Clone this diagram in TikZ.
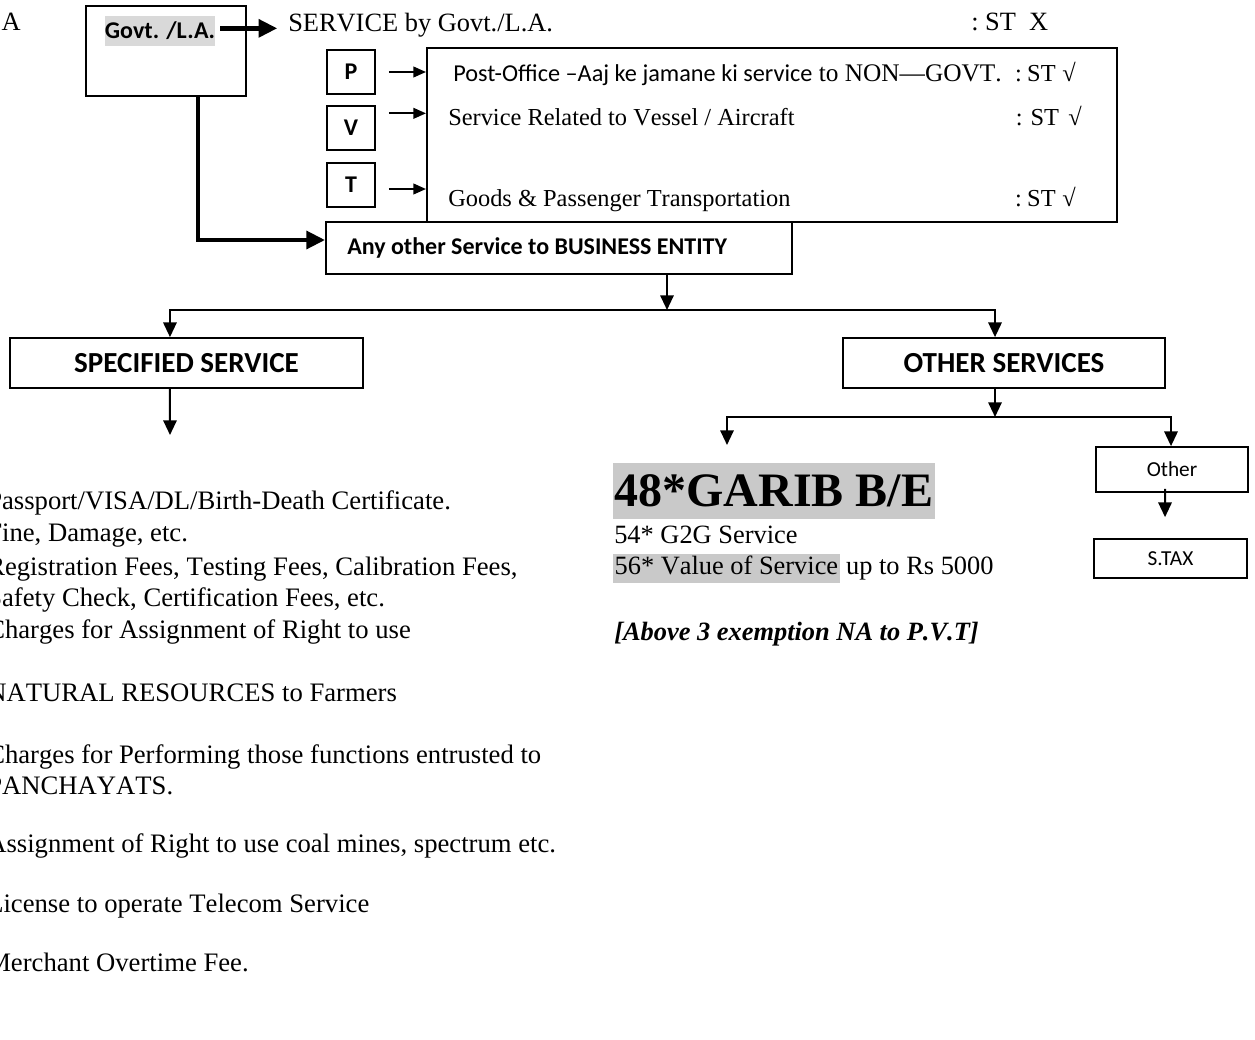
\documentclass[tikz,border=0pt]{standalone}
\usepackage{fontspec}
\setmainfont{Liberation Serif}[Kerning=Off]
\newfontfamily\calfont{Carlito}
\usetikzlibrary{arrows.meta,calc}
\newcommand\fsz[1]{\fontsize{#1}{#1}\selectfont}
\definecolor{hlgray}{gray}{0.79}
\definecolor{hlgraylt}{gray}{0.85}
\newcommand\hlbox[1]{{\setlength{\fboxsep}{1pt}\colorbox{hlgray}{\strut #1}}}
\newcommand\stmark{:\hspace{4pt}ST\hspace{5pt}√}
\begin{document}
\begin{tikzpicture}[x=0.75pt,y=-0.75pt,
  sz/.style 2 args={minimum width=#1*0.75pt, minimum height=#2*0.75pt},
  bx/.style={draw, line width=1.3pt, inner sep=0pt},
  thinarr/.style={line width=1.5pt, -{Triangle[length=11pt,width=10pt]}},
  smallarr/.style={line width=1.5pt, -{Triangle[length=9.5pt,width=8pt]}},
  thickarr/.style={line width=3.7pt, -{Triangle[length=14pt,width=13pt]}},
  txt/.style={inner sep=0pt, anchor=base west},
  cbold/.style={font=\calfont\bfseries\fsz{#1}},
]
\useasboundingbox (0,0) rectangle (1255,1039);

% top row
\node[txt, anchor=base east, font=\fsz{19.8}] (la) at (21,30) {L.A};
\node[bx, sz={160}{90}] (govt) at (166,51) {};
\node[fill=hlgraylt, inner sep=0pt, sz={108}{30}, cbold=18] (govtlbl) at (160,31) {Govt. /L.A.};
\node[txt, font=\fsz{19.8}] (svc) at (288,31) {SERVICE by Govt./L.A.};
\node[txt, font=\fsz{19.8}] (stx) at (971,30) {:~ST~~X};
\draw[thickarr, shorten <=3.75pt, shorten >=8pt] ([yshift=2pt]govtlbl.east) -- ([yshift=2pt]govtlbl.east -| svc.west);

% P V T
\node[bx, sz={48}{44}, cbold=18] (pbox) at (351,72) {P};
\node[bx, sz={48}{44}, cbold=18] (vbox) at (351,128) {V};
\node[bx, sz={48}{44}, cbold=18] (tbox) at (351,185) {T};
\node[bx, line width=1.5pt, sz={690}{174}] (big) at (772,135) {};
\node[bx, fill=white, sz={466}{52}] (anybox) at (559,248) {};
\node[inner sep=0pt, anchor=west, cbold=18] (anytxt) at (347,248) {Any other Service to BUSINESS ENTITY};

\draw[smallarr] ([xshift=9.75pt]pbox.east) -- (pbox.east -| big.west);
\draw[smallarr] ([shift={(9.75pt,11pt)}]vbox.east) -- ([yshift=11pt]vbox.east -| big.west);
\draw[smallarr] ([shift={(9.75pt,-3pt)}]tbox.east) -- ([yshift=-3pt]tbox.east -| big.west);

\node[txt, font=\fsz{19}] (r1) at (453,81) {{\calfont\fsz{18.2}Post-Office –Aaj ke jamane ki service} to NON—GOVT.};
\node[txt, anchor=base east, font=\fsz{18.3}] (r1st) at (1076,81) {\stmark};
\node[txt, font=\fsz{18.3}] (r2) at (448,125) {Service Related to Vessel / Aircraft};
\node[txt, anchor=base east, font=\fsz{18.3}] (r2st) at (1082,125) {:\hspace{6pt}ST\hspace{7pt}√};
\node[txt, font=\fsz{18.3}] (r3) at (448,206) {Goods \& Passenger Transportation};
\node[txt, anchor=base east, font=\fsz{18.3}] (r3st) at (1076,206) {\stmark};

\draw[thickarr, line join=miter] ([xshift=24pt]govt.south) |- ([yshift=6pt]anybox.west);

% level 2
\node[bx, sz={353}{50}, cbold=21.8] (spec) at (186.5,363) {SPECIFIED SERVICE};
\node[bx, sz={322}{50}, cbold=21.8] (other) at (1004,363) {OTHER SERVICES};
\coordinate (j1) at (667,310);
\draw[thinarr] ([xshift=81pt]anybox.south) -- (j1);
\draw[thinarr] (j1) -| ([xshift=-12.4pt]spec.north);
\draw[thinarr] (j1) -| ([xshift=-6.75pt]other.north);
\coordinate (stip) at (170,435);
\draw[thinarr] ([xshift=-12.4pt]spec.south) -- (stip);

% other services branch
\node[bx, sz={152}{45}, font=\calfont\fsz{16}] (othbox) at (1172,469.5) {Other};
\node[bx, sz={153}{39}, font=\calfont\fsz{16}] (stax) at (1170.5,558.5) {S.TAX};
\coordinate (j2) at (995,417);
\coordinate (gtip) at (727,445);
\draw[thinarr] ([xshift=-6.75pt]other.south) -- (j2);
\draw[thinarr] (j2) -| (gtip);
\draw[thinarr] (j2) -| ([xshift=-0.75pt]othbox.north);
\draw[thinarr] ([shift={(-5.25pt,3pt)}]othbox.south) -- ([shift={(-4.1pt,15.75pt)}]stax.north);

\node[fill=hlgray, inner xsep=1pt, inner ysep=0pt, minimum height=42pt, anchor=west, font=\bfseries\fsz{36}] (garib) at (613,491) {48*GARIB B/E};
\node[txt, font=\fsz{19.8}] (g1) at (614,543) {54* G2G Service};
\node[txt, font=\fsz{19.8}] (g2) at (613,574) {\hlbox{56* Value of Service} up to Rs 5000};
\node[txt, font=\bfseries\itshape\fsz{19.8}] (g3) at (614,640) {[Above 3 exemption NA to P.V.T]};

% specified list
\begin{scope}[every node/.style={txt, font=\fsz{20}}]
\node (l1) at (-13,509) {Passport/VISA/DL/Birth-Death Certificate.};
\node (l2) at (-13,541) {Fine, Damage, etc.};
\node (l3) at (-13,575) {Registration Fees, Testing Fees, Calibration Fees,};
\node (l4) at (-13,606) {Safety Check, Certification Fees, etc.};
\node (l5) at (-13,638) {Charges for Assignment of Right to use};
\node (l6) at (-13,701) {NATURAL RESOURCES to Farmers};
\node (l7) at (-13,763) {Charges for Performing those functions entrusted to};
\node (l8) at (-13,794) {PANCHAYATS.};
\node (l9) at (-13,852) {Assignment of Right to use coal mines, spectrum etc.};
\node (l10) at (-13,912) {License to operate Telecom Service};
\node (l11) at (-13,971) {Merchant Overtime Fee.};
\end{scope}
\end{tikzpicture}
\end{document}
